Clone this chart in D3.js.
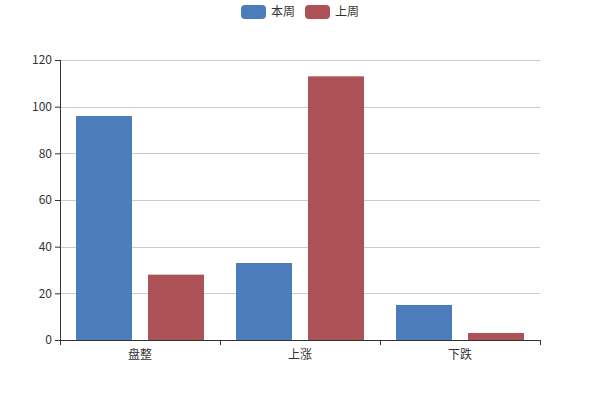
<!DOCTYPE html>
<html>
<head>
<meta charset="utf-8">
<script src="https://cdn.jsdelivr.net/npm/d3@7"></script>
<style>
  body { margin: 0; background: #fff; }
  text { font-family: "Microsoft YaHei", "Noto Sans CJK SC", sans-serif; }
</style>
</head>
<body>
<div id="chart"></div>
<script>
var categories = ["盘整", "上涨", "下跌"];
var seriesNames = ["本周", "上周"];
var thisWeek = [96, 33, 15];
var lastWeek = [28, 113, 3];
var yTicks = [0, 20, 40, 60, 80, 100, 120];
var colors = ["#4b7dba", "#ad5257"];

var margin = {top: 60, right: 60, bottom: 60, left: 60},
    width = 600 - margin.left - margin.right,
    height = 400 - margin.top - margin.bottom;

var svg = d3.select("#chart")
    .append("svg")
    .attr("width", 600)
    .attr("height", 400);

var g = svg.append("g")
    .attr("transform", "translate(" + margin.left + "," + margin.top + ")");

var x = d3.scaleBand()
    .domain(categories)
    .range([0, width]);

var x1 = d3.scaleBand()
    .domain(seriesNames)
    .range([0, x.bandwidth()])
    .paddingInner(16 / 72)
    .paddingOuter(16 / 72);

var y = d3.scaleLinear()
    .domain([0, 120])
    .range([height, 0]);

// grid lines
g.selectAll(".grid")
    .data(yTicks.filter(function(d) { return d > 0; }))
    .enter()
    .append("line")
    .attr("x1", 0)
    .attr("x2", width)
    .attr("y1", function(d) { return Math.round(y(d)) + 0.5; })
    .attr("y2", function(d) { return Math.round(y(d)) + 0.5; })
    .attr("stroke", "#ccc");

// bars
var data = categories.map(function(c, i) {
    return {cat: c, values: [
        {name: seriesNames[0], v: thisWeek[i], color: colors[0]},
        {name: seriesNames[1], v: lastWeek[i], color: colors[1]}
    ]};
});

var groups = g.selectAll(".grp")
    .data(data)
    .enter()
    .append("g")
    .attr("transform", function(d) { return "translate(" + x(d.cat) + ",0)"; });

groups.selectAll("rect")
    .data(function(d) { return d.values; })
    .enter()
    .append("rect")
    .attr("x", function(d) { return x1(d.name); })
    .attr("y", function(d) { return y(d.v); })
    .attr("width", x1.bandwidth())
    .attr("height", function(d) { return height - y(d.v); })
    .attr("fill", function(d) { return d.color; });

// y axis
var yAxis = g.append("g")
    .call(d3.axisLeft(y).tickValues(yTicks).tickSize(5).tickPadding(3));
yAxis.selectAll("text").attr("fill", "#333").style("font-size", "12px");
yAxis.selectAll("line").attr("stroke", "#333");
yAxis.select(".domain").attr("stroke", "#333").attr("d", "M0.5," + height + "V0");

// x axis
var xTickScale = d3.scaleLinear().domain([0, categories.length]).range([0, width]);
var xAxis = g.append("g")
    .attr("transform", "translate(0," + height + ")")
    .call(d3.axisBottom(xTickScale).ticks(categories.length).tickSize(5).tickFormat(""));
xAxis.selectAll("line").attr("stroke", "#333");
xAxis.select(".domain").attr("stroke", "#333").attr("d", "M0,0.5H" + width);

xAxis.selectAll(".cat")
    .data(categories)
    .enter()
    .append("text")
    .attr("x", function(d) { return x(d) + x.bandwidth() / 2; })
    .attr("y", 19)
    .attr("text-anchor", "middle")
    .attr("fill", "#333")
    .style("font-size", "12px")
    .text(function(d) { return d; });

// legend
var legend = svg.append("g");
var legendX = [241, 305];
seriesNames.forEach(function(n, i) {
    legend.append("rect")
        .attr("x", legendX[i])
        .attr("y", 5)
        .attr("width", 25)
        .attr("height", 14)
        .attr("rx", 4)
        .attr("fill", colors[i]);
    legend.append("text")
        .attr("x", legendX[i] + 30)
        .attr("y", 16)
        .attr("fill", "#333")
        .style("font-size", "12px")
        .text(n);
});
</script>
</body>
</html>
